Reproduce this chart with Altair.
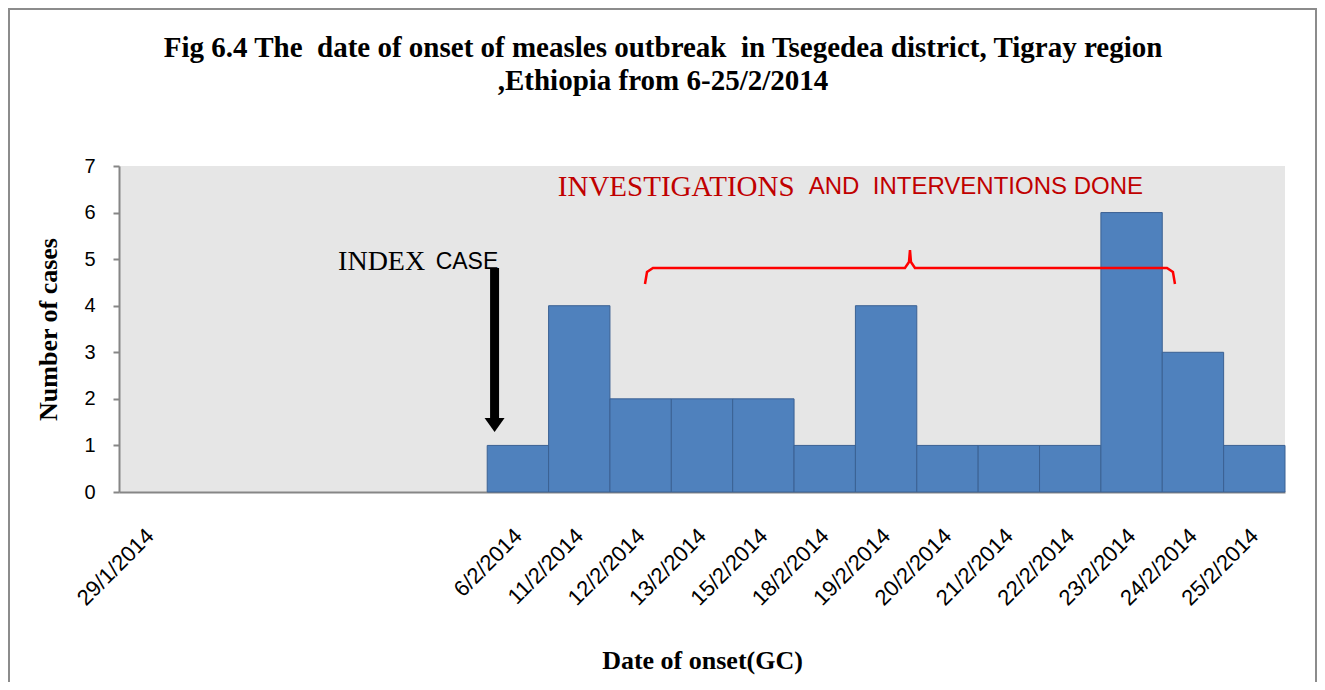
import altair as alt
import pandas as pd
import json

# ---------------- data ----------------
dates = ["29/1/2014", "", "", "", "", "", "6/2/2014", "11/2/2014", "12/2/2014",
         "13/2/2014", "15/2/2014", "18/2/2014", "19/2/2014", "20/2/2014",
         "21/2/2014", "22/2/2014", "23/2/2014", "24/2/2014", "25/2/2014"]
cases = [0, 0, 0, 0, 0, 0, 1, 4, 2, 2, 2, 1, 4, 1, 1, 1, 6, 3, 1]

# annotation geometry in data units (x: category slots 0..19, y: cases)
brace_x = [8.571, 8.604, 8.701, 12.807, 12.873, 12.889, 12.905, 12.970, 17.077, 17.174, 17.207]
brace_y = [4.466, 4.724, 4.810, 4.810, 4.939, 5.196, 4.939, 4.810, 4.810, 4.724, 4.466]
arrow_x = 6.12
arrow_top, arrow_end, arrow_head = 4.81, 1.55, 1.44

title_line1 = "Fig 6.4 The\u00a0 date of onset of measles outbreak\u00a0 in Tsegedea district, Tigray region"
title_line2 = ",Ethiopia from 6-25/2/2014"

# ---------------- tables ----------------
bars = pd.DataFrame({"start": list(range(len(dates))),
                     "end": [i + 1 for i in range(len(dates))],
                     "cases": cases})
bars = bars[bars["cases"] > 0]

brace = pd.DataFrame({"x": brace_x, "y": brace_y, "o": list(range(len(brace_x)))})

xscale = alt.Scale(domain=[0, len(dates)], nice=False, zero=False)
yscale = alt.Scale(domain=[0, 7], nice=False)

SERIF = "Liberation Serif"
SANS = "Liberation Sans"
GRAY = "#868686"

label_expr = json.dumps(dates) + "[floor(datum.value)]"

xaxis = alt.Axis(values=[i + 0.5 for i in range(len(dates))], labelExpr=label_expr,
                 labelAngle=315, labelAlign="right", labelBaseline="middle",
                 labelPadding=40, labelOffset=0, ticks=False, grid=False,
                 labelFont=SANS, labelFontSize=22, labelColor="black",
                 domainColor=GRAY, domainWidth=2, labelOverlap=False, labelBound=False,
                 title="Date of onset(GC)", titleFont=SERIF, titleFontSize=26,
                 titleFontWeight="bold", titleColor="black", titleY=168,
                 titleBaseline="middle")
yaxis = alt.Axis(values=list(range(8)), tickSize=6, tickColor=GRAY, tickWidth=2,
                 domainColor=GRAY, domainWidth=2, grid=False,
                 labelFont=SANS, labelFontSize=20, labelColor="black", labelPadding=18,
                 title="Number of cases", titleFont=SERIF, titleFontSize=26,
                 titleFontWeight="bold", titleColor="black", titleX=-71,
                 titleBaseline="middle")

bar_layer = alt.Chart(bars).mark_rect(fill="#4f81bd", stroke="#3b6193", strokeWidth=1).encode(
    x=alt.X("start:Q", scale=xscale, axis=xaxis),
    x2="end:Q",
    y=alt.Y("cases:Q", scale=yscale, axis=yaxis),
    y2=alt.datum(0),
)

one = alt.Data(values=[{}])

index_txt = alt.Chart(one).mark_text(text="INDEX", font=SERIF, fontSize=28, align="left",
                                     baseline="middle", color="black").encode(
    x=alt.datum(3.57, scale=xscale), y=alt.datum(4.94, scale=yscale))
case_txt = alt.Chart(one).mark_text(text="CASE", font=SANS, fontSize=23, align="left",
                                    baseline="middle", color="black").encode(
    x=alt.datum(5.16, scale=xscale), y=alt.datum(4.94, scale=yscale))

inv_txt = alt.Chart(one).mark_text(text="INVESTIGATIONS", font=SERIF, fontSize=29, align="left",
                                   baseline="middle", color="#c00000").encode(
    x=alt.datum(7.15, scale=xscale), y=alt.datum(6.55, scale=yscale))
and_txt = alt.Chart(one).mark_text(text="AND\u00a0 INTERVENTIONS DONE", font=SANS, fontSize=24,
                                   align="left", baseline="middle", color="#c00000").encode(
    x=alt.datum(11.24, scale=xscale), y=alt.datum(6.55, scale=yscale))

shaft = alt.Chart(one).mark_rule(color="black", strokeWidth=9).encode(
    x=alt.datum(arrow_x, scale=xscale),
    y=alt.datum(arrow_top, scale=yscale), y2=alt.datum(arrow_end))
head = alt.Chart(one).mark_point(shape="M -1 -0.7 L 1 -0.7 L 0 0.7 Z", filled=True,
                                 color="black", opacity=1, size=400).encode(
    x=alt.datum(arrow_x, scale=xscale), y=alt.datum(arrow_head, scale=yscale))

brace_layer = alt.Chart(brace).mark_line(color="#ff0000", strokeWidth=2.5).encode(
    x=alt.X("x:Q", scale=xscale), y=alt.Y("y:Q", scale=yscale), order="o:Q")

title1 = alt.Chart(one).mark_text(text=title_line1, font=SERIF, fontSize=29, fontWeight="bold",
                                  color="black", align="center", baseline="alphabetic").encode(
    x=alt.value(544), y=alt.value(-109))
title2 = alt.Chart(one).mark_text(text=title_line2, font=SERIF, fontSize=29, fontWeight="bold",
                                  color="black", align="center", baseline="alphabetic").encode(
    x=alt.value(544), y=alt.value(-76))

border = alt.Chart(one).mark_rect(filled=False, stroke="#8c8c8c", strokeWidth=2).encode(
    x=alt.value(-110), x2=alt.value(1197), y=alt.value(-157), y2=alt.value(600))

chart = alt.layer(bar_layer, brace_layer, shaft, head, index_txt, case_txt, inv_txt, and_txt,
                  title1, title2, border).properties(
    width=1166, height=326,
    autosize=alt.AutoSizeParams(type="none"),
    padding={"left": 111, "top": 158, "right": 32, "bottom": 190},
    background="white",
).configure_view(fill="#e6e6e6", strokeWidth=0)

chart.save("out.html", embed_options={"renderer": "svg", "actions": False})
